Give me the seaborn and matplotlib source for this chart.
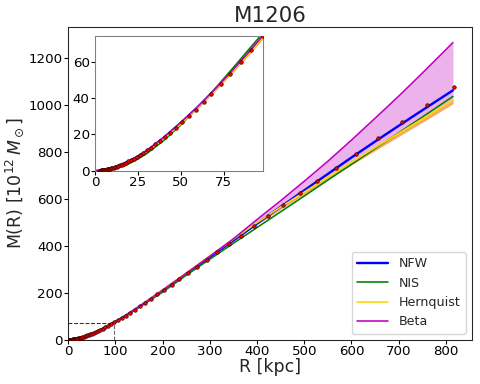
import numpy as np
import matplotlib
matplotlib.use("Agg")
import matplotlib.pyplot as plt
import seaborn as sns

# measured points (R in kpc, M in 1e12 Msun)
r_obs = [2.5, 2.7, 2.9, 3.1, 3.3, 3.6, 3.9, 4.2, 4.5, 4.8, 5.2, 5.6, 6.0, 6.5, 7.0,
         7.5, 8.1, 8.7, 9.4, 10.1, 10.9, 11.7, 12.6, 13.5, 14.6, 15.7, 16.9, 18.2,
         19.5, 21.0, 22.6, 24.3, 26.2, 28.2, 30.3, 32.6, 35.1, 37.7, 40.6, 43.7,
         47.0, 50.5, 54.6, 58.7, 63.4, 67.9, 73.2, 79.0, 84.9, 91.1, 98.0, 105.5,
         113.5, 122.0, 131.4, 141.0, 152.0, 163.6, 176.0, 189.0, 203.5, 219.0,
         235.6, 253.5, 272.8, 293.5, 315.8, 339.8, 365.6, 393.0, 423.0, 455.0,
         490.0, 527.0, 567.0, 610.0, 657.0, 707.0, 760.0, 818.0]
m_obs = [0.10, 0.12, 0.14, 0.16, 0.18, 0.21, 0.245, 0.28, 0.32, 0.37, 0.43, 0.49,
         0.56, 0.66, 0.76, 0.86, 1.0, 1.15, 1.33, 1.52, 1.76, 2.01, 2.31, 2.62,
         3.03, 3.47, 3.97, 4.55, 5.16, 5.9, 6.73, 7.65, 8.75, 9.95, 11.3, 12.8,
         14.5, 16.4, 18.6, 21.0, 23.7, 26.6, 29.9, 33.6, 38.0, 42.4, 47.7, 53.4,
         59.6, 66.6, 74.0, 82.5, 92.0, 103.0, 116.0, 128.0, 143.0, 158.0, 175.0,
         193.0, 213.0, 235.0, 258.0, 284.0, 311.0, 341.0, 373.0, 407.0, 444.0,
         484.0, 527.0, 573.0, 623.0, 677.0, 733.0, 793.0, 857.0, 926.0, 998.0, 1077.0]

# model curves
r_mod = [0, 2, 5, 10, 15, 20, 25, 30, 40, 50, 60, 70, 80, 90, 100, 120, 140, 160,
         180, 200, 250, 300, 350, 400, 450, 500, 550, 600, 650, 700, 750, 815]
m_nfw = [0, 0.08, 0.45, 1.6, 3.3, 5.4, 7.9, 10.8, 18.1, 26.3, 35.0, 44.5, 54.5,
         65.0, 76.0, 101, 127, 154, 182, 210, 281, 352, 423, 495, 566, 636, 706,
         776, 844, 911, 977, 1062]
m_nis = [0, 0.02, 0.2, 0.9, 2.2, 4.0, 6.5, 9.4, 16.6, 25.2, 34.8, 45.2, 56.0,
         67.0, 78.0, 101, 126, 151, 177, 203, 275, 343, 411, 478, 545, 612, 680,
         747, 814, 881, 948, 1036]
m_hern = [0, 0.08, 0.44, 1.55, 3.2, 5.2, 7.6, 10.5, 17.6, 25.8, 34.6, 44.0, 54.0,
          64.4, 75.5, 101, 128, 156, 184, 213, 285, 357, 428, 499, 565, 629, 693,
          756, 818, 879, 940, 1020]
m_hern_lo = [0, 0.08, 0.43, 1.52, 3.15, 5.1, 7.5, 10.3, 17.3, 25.4, 34.1, 43.3,
             53.2, 63.4, 74.3, 99, 126, 153, 181, 209, 281, 352, 421, 491, 556,
             620, 683, 745, 806, 866, 926, 1005]
m_beta = [0, 0.09, 0.47, 1.65, 3.4, 5.5, 8.0, 11.0, 18.4, 26.6, 35.4, 44.9, 55.0,
          65.6, 76.6, 102, 128, 155, 183, 211, 283, 356, 430, 512, 592, 675, 760,
          850, 943, 1037, 1135, 1265]
m_beta_lo = m_hern_lo

sns.set_style("ticks")
plt.rcParams["font.family"] = ["DejaVu Sans"]

fig = plt.figure(figsize=(5, 4), dpi=96)
ax = fig.add_axes([0.142, 0.115, 0.841, 0.815])


def draw(a, legend):
    a.fill_between(r_mod, m_beta_lo, m_beta, color="m", alpha=0.3, lw=0)
    a.fill_between(r_mod, m_hern_lo, m_hern, color="orange", alpha=0.6, lw=0)
    sns.lineplot(x=r_mod, y=m_nfw, ax=a, color="blue", lw=1.8,
                 label="NFW" if legend else None)
    sns.lineplot(x=r_mod, y=m_nis, ax=a, color="green", lw=1.2,
                 label="NIS" if legend else None)
    sns.lineplot(x=r_mod, y=m_hern, ax=a, color="gold", lw=1.2,
                 label="Hernquist" if legend else None)
    sns.lineplot(x=r_mod, y=m_beta, ax=a, color="m", lw=1.2,
                 label="Beta" if legend else None)
    sns.scatterplot(x=r_obs, y=m_obs, ax=a, color="red", edgecolor="#300000",
                    s=7, linewidth=0.5, zorder=5)


draw(ax, True)
ax.set_xlim(0, 855)
ax.set_ylim(0, 1332)
ax.plot([0, 98], [72, 72], ls="--", color="k", lw=0.8, alpha=0.8)
ax.plot([98, 98], [0, 72], ls="--", color="k", lw=0.8, alpha=0.6)
ax.set_xlabel("R [kpc]", fontsize=13, labelpad=0)
ax.set_ylabel(r"M(R) [$10^{12}\,M_\odot$]", fontsize=13, labelpad=2)
ax.set_title("M1206", fontsize=16, pad=4)
ax.tick_params(labelsize=10, length=3, pad=1, colors="black")
ax.legend(loc="lower right", fontsize=9.5, handlelength=2.5)

ins = fig.add_axes([0.198, 0.555, 0.350, 0.351])
draw(ins, False)
ins.set_xlim(0, 98)
ins.set_ylim(0, 74)
ins.set_xticks([0, 25, 50, 75])
ins.set_yticks([0, 20, 40, 60])
ins.tick_params(labelsize=10, length=3, pad=1, colors="black")
for sp in ins.spines.values():
    sp.set_color("gray")

fig.savefig("out.png", dpi=96)
